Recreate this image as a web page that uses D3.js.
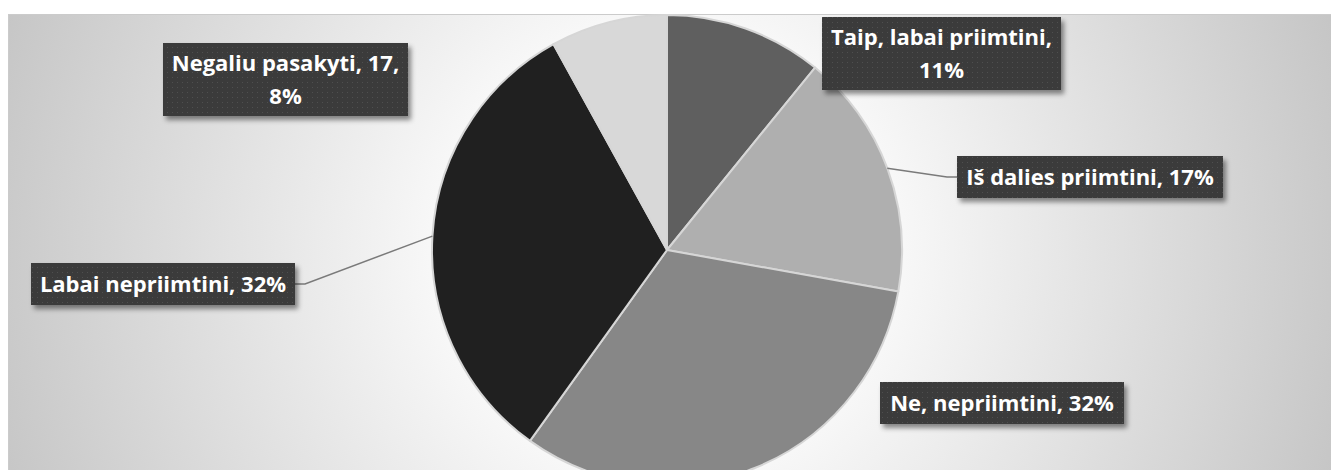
<!DOCTYPE html>
<meta charset="utf-8">
<script src="https://cdn.jsdelivr.net/npm/d3@7"></script>
<style>
	body{margin:0;background:#fff;}
	.lbl{font-family:"Open Sans", sans-serif;font-weight:700;font-size:22px;fill:#fff;}
</style>
<div id="chart"></div>
<script>
// answers, top slice first, clockwise
var categories = ["Taip, labai priimtini","Iš dalies priimtini","Ne, nepriimtini","Labai nepriimtini","Negaliu pasakyti"]
var counts = [23,36,68,68,17]
var colors = ["#5f5f5f","#afafaf","#878787","#202020","#d8d8d8"]
var showValue = [false,false,false,false,true]

var width = 1331
var height = 470
var cx = 667, cy = 250, r = 235

// label boxes
var boxes = [
	{x:822,y:17,w:239,h:73,wrap:true,line:false},
	{x:957,y:156,w:266,h:42,wrap:false,line:true},
	{x:880,y:382,w:244,h:42,wrap:false,line:false},
	{x:31,y:263,w:264,h:42,wrap:false,line:true},
	{x:163,y:43,w:245,h:73,wrap:true,line:false}
]

var total = d3.sum(counts)

var svg = d3.select("#chart").append("svg")
	.attr("width",width)
	.attr("height",height)

var defs = svg.append("defs")
var grad = defs.append("radialGradient").attr("id","bg")
	.attr("gradientUnits","userSpaceOnUse")
	.attr("cx",cx).attr("cy",cy).attr("r",720)
grad.append("stop").attr("offset",0).attr("stop-color","#ffffff")
grad.append("stop").attr("offset",0.33).attr("stop-color","#f7f7f7")
grad.append("stop").attr("offset",1).attr("stop-color","#c4c4c4")

var pat = defs.append("pattern").attr("id","dots")
	.attr("patternUnits","userSpaceOnUse").attr("width",5).attr("height",5)
pat.append("rect").attr("width",5).attr("height",5).attr("fill","#3a3a3a")
pat.append("rect").attr("x",2).attr("y",2).attr("width",1).attr("height",1).attr("fill","#505050")

var sh = defs.append("filter").attr("id","sh")
	.attr("x","-10%").attr("y","-20%").attr("width","130%").attr("height","160%")
sh.append("feDropShadow").attr("dx",3).attr("dy",4).attr("stdDeviation",2.5)
	.attr("flood-color","#000").attr("flood-opacity",0.45)

var clip = defs.append("clipPath").attr("id","area")
clip.append("rect").attr("x",8).attr("y",14).attr("width",width-8).attr("height",height-14)

svg.append("rect")
	.attr("x",8.5).attr("y",14.5)
	.attr("width",width-8).attr("height",height-14)
	.attr("fill","url(#bg)")
	.attr("stroke","#cbcbcb")

var pie = d3.pie().sort(null).value(function(d){return d})
var arcs = pie(counts)
var arc = d3.arc().innerRadius(0).outerRadius(r)

var g = svg.append("g").attr("clip-path","url(#area)")
	.append("g").attr("transform","translate("+cx+","+cy+")")

g.selectAll("path")
	.data(arcs)
	.enter()
	.append("path")
	.attr("d",arc)
	.attr("fill",function(d,i){return colors[i]})
	.attr("stroke","#d6d6d6")
	.attr("stroke-width",2)
	.attr("stroke-linejoin","round")

// leader lines
arcs.forEach(function(d,i){
	var b = boxes[i]
	if(!b.line) return
	var a = (d.startAngle+d.endAngle)/2
	var px = cx+Math.sin(a)*r
	var py = cy-Math.cos(a)*r
	var ex = px<cx ? b.x+b.w : b.x
	var ey = b.y+b.h/2
	var kx = px<cx ? ex+10 : ex-10
	svg.append("path")
		.attr("d","M"+px+","+py+"L"+kx+","+ey+"L"+ex+","+ey)
		.attr("fill","none")
		.attr("stroke","#7a7a7a")
		.attr("stroke-width",1.5)
})

// label boxes
arcs.forEach(function(d,i){
	var b = boxes[i]
	var pct = Math.round(d.value/total*100)+"%"
	var text = categories[i]+", "+(showValue[i] ? d.value+", " : "")
	var lines = b.wrap ? [text.trim(), pct] : [text+pct]
	var lg = svg.append("g")
	lg.append("rect")
		.attr("x",b.x).attr("y",b.y)
		.attr("width",b.w).attr("height",b.h)
		.attr("fill","url(#dots)")
		.attr("filter","url(#sh)")
	var lh = 33
	var y0 = b.y+b.h/2-(lines.length-1)*lh/2
	lines.forEach(function(t,k){
		lg.append("text")
			.attr("class","lbl")
			.attr("x",b.x+b.w/2)
			.attr("y",y0+k*lh)
			.attr("dy","0.35em")
			.attr("text-anchor","middle")
			.text(t)
	})
})
</script>
